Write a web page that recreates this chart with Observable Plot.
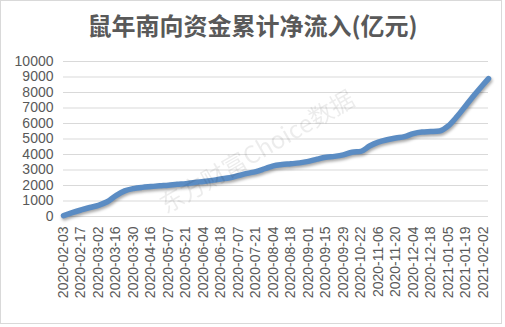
<!DOCTYPE html>
<html><head><meta charset="utf-8">
<script src="https://cdn.jsdelivr.net/npm/d3@7"></script>
<script src="https://cdn.jsdelivr.net/npm/@observablehq/plot@0.6"></script>
<style>
html,body{margin:0;padding:0;background:#fff;}
#wrap{position:relative;width:505px;height:327px;overflow:hidden;background:#fff;}
#frame{position:absolute;left:0;top:0;width:500px;height:322px;border:1px solid #d9d9d9;pointer-events:none;}
#title{height:44px;line-height:50px;text-align:center;font-family:"Noto Sans CJK SC",sans-serif;font-weight:bold;font-size:24px;color:#595959;}
#wm{position:absolute;left:152px;top:190px;font-family:"Noto Sans CJK SC",sans-serif;font-size:24px;color:#000;opacity:0.07;transform:rotate(-30deg);transform-origin:left top;white-space:nowrap;}
svg g[aria-label="line"]{filter:drop-shadow(1px 2px 1.5px rgba(0,0,0,0.35));}
</style></head>
<body>
<div id="wrap"><div id="title">鼠年南向资金累计净流入(亿元)</div><div id="chart"></div><div id="wm">东方财富Choice数据</div><div id="frame"></div></div>
<script>
// trading-day index since 2020-02-03
const tradingDay = [0,5,10,15,20,25,30,35,40,45,50,55,60,65,70,75,80,85,90,95,100,105,110,115,120,125,130,135,140,145,150,155,160,165,170,175,180,185,190,195,200,205,210,215,220,225,230,235,240,243];
const cumulative = [60,250,420,580,720,950,1350,1650,1800,1880,1930,1980,2020,2080,2120,2200,2260,2330,2420,2500,2640,2780,2900,3080,3270,3350,3400,3460,3560,3700,3820,3880,3980,4150,4200,4550,4800,4950,5060,5150,5350,5450,5480,5520,5850,6450,7150,7850,8520,8900];
const tickDates = ["2020-02-03","2020-02-17","2020-03-02","2020-03-16","2020-03-30","2020-04-16","2020-05-07","2020-05-21","2020-06-04","2020-06-18","2020-07-07","2020-07-21","2020-08-04","2020-08-18","2020-09-01","2020-09-15","2020-09-29","2020-10-22","2020-11-06","2020-11-20","2020-12-04","2020-12-18","2021-01-05","2021-01-19","2021-02-02"];
const yTicks = [0,1000,2000,3000,4000,5000,6000,7000,8000,9000,10000];

const data = tradingDay.map((d,i)=>({day:d, value:cumulative[i]}));
const tickPos = tickDates.map((_,i)=>i*10);

const chart = Plot.plot({
  width: 505,
  height: 283,
  marginTop: 17,
  marginBottom: 111,
  marginLeft: 63,
  marginRight: 17,
  style: {fontFamily: "'Liberation Sans', Arial, sans-serif", fontSize: "14px", color: "#595959", background: "transparent"},
  x: {domain: [0, 243], ticks: tickPos, tickFormat: d => tickDates[d/10], tickRotate: -90, tickSize: 0, tickPadding: 10, label: null},
  y: {domain: [0, 10000], ticks: yTicks, tickFormat: d => String(d), tickSize: 0, tickPadding: 10, label: null},
  marks: [
    Plot.gridY(yTicks, {stroke: "#d9d9d9", strokeOpacity: 1, strokeWidth: 1}),
    Plot.line(data, {x: "day", y: "value", stroke: "#5b8cc3", strokeWidth: 5.5, curve: "monotone-x"})
  ]
});
document.getElementById("chart").appendChild(chart);
</script>
</body></html>
